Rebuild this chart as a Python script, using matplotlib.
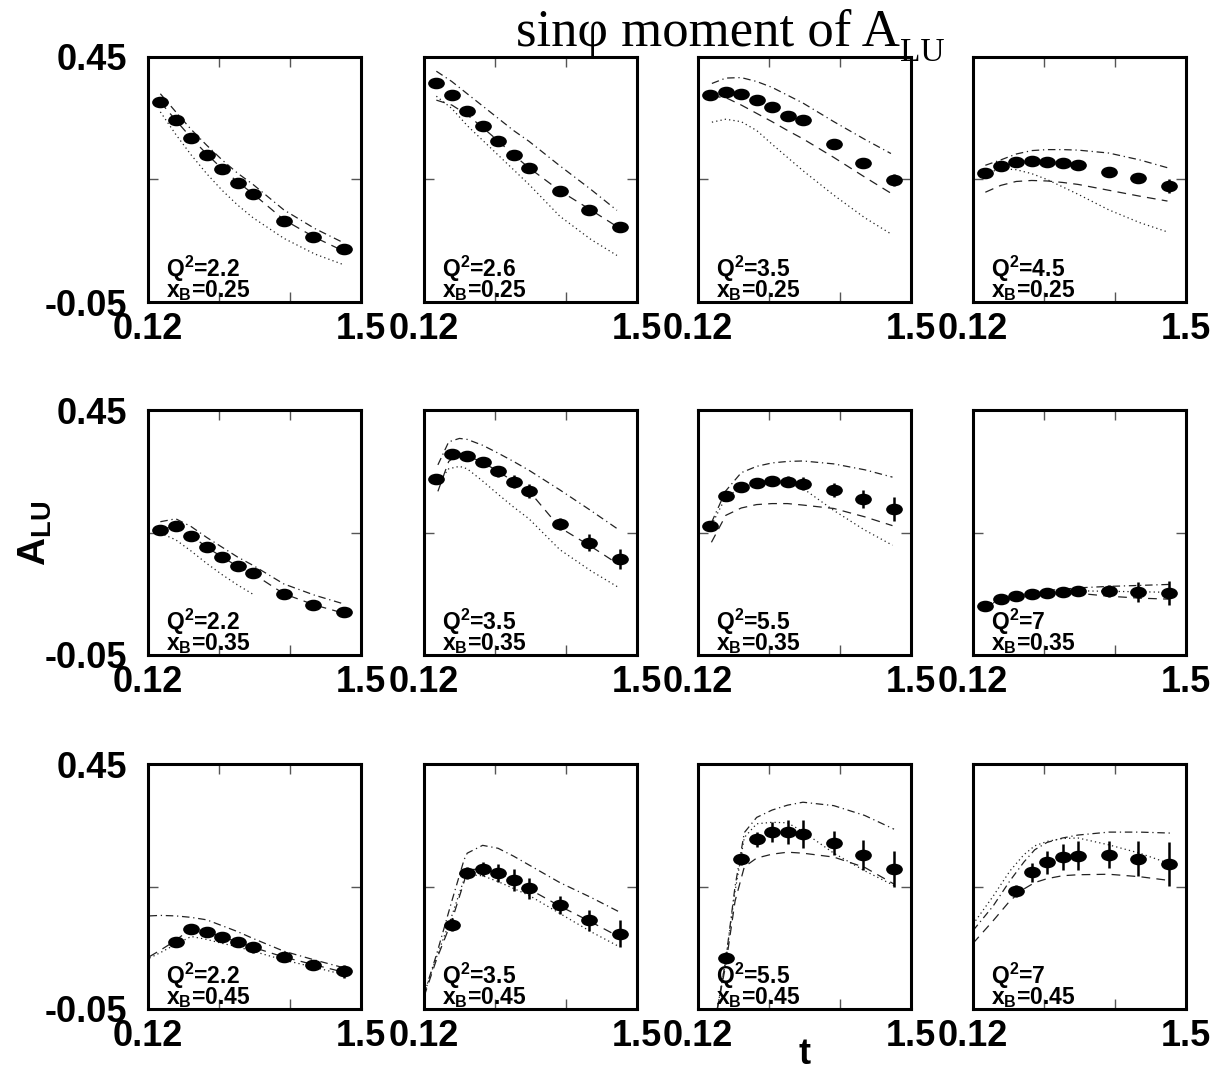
import matplotlib
matplotlib.use("Agg")
import matplotlib.pyplot as plt
from matplotlib.path import Path

nan = float("nan")

# -t bins of the measured points
t_bins = [0.2, 0.3, 0.4, 0.5, 0.6, 0.7, 0.8, 1.0, 1.19, 1.39]

q2_labels = [["2.2", "2.6", "3.5", "4.5"],
             ["2.2", "3.5", "5.5", "7"],
             ["2.2", "3.5", "5.5", "7"]]
xb_labels = ["0.25", "0.35", "0.45"]

# first t-bin used in each panel (row 3 starts at larger -t)
first_bin = [[0, 0, 0, 0],
             [0, 0, 0, 0],
             [1, 1, 1, 2]]

# ---- measured sin(phi) moments and their errors ----
alu_r1c1 = [0.358, 0.321, 0.284, 0.250, 0.221, 0.193, 0.170, 0.116, 0.083, 0.058]
err_r1c1 = [0.003, 0.003, 0.003, 0.003, 0.004, 0.004, 0.004, 0.005, 0.006, 0.007]
alu_r1c2 = [0.396, 0.372, 0.340, 0.309, 0.279, 0.250, 0.224, 0.177, 0.138, 0.104]
err_r1c2 = [0.003, 0.003, 0.003, 0.004, 0.004, 0.004, 0.005, 0.006, 0.007, 0.008]
alu_r1c3 = [0.372, 0.379, 0.374, 0.362, 0.347, 0.330, 0.321, 0.272, 0.234, 0.199]
err_r1c3 = [0.003, 0.003, 0.004, 0.004, 0.004, 0.005, 0.005, 0.007, 0.009, 0.013]
alu_r1c4 = [0.214, 0.228, 0.235, 0.238, 0.236, 0.234, 0.230, 0.216, 0.204, 0.187]
err_r1c4 = [0.004, 0.004, 0.004, 0.005, 0.005, 0.005, 0.006, 0.008, 0.010, 0.015]

alu_r2c1 = [0.206, 0.213, 0.193, 0.170, 0.151, 0.132, 0.117, 0.074, 0.052, 0.037]
err_r2c1 = [0.003, 0.003, 0.004, 0.004, 0.004, 0.005, 0.005, 0.006, 0.007, 0.009]
alu_r2c2 = [0.309, 0.361, 0.357, 0.343, 0.325, 0.304, 0.285, 0.218, 0.179, 0.146]
err_r2c2 = [0.005, 0.005, 0.006, 0.008, 0.011, 0.013, 0.015, 0.012, 0.017, 0.021]
alu_r2c3 = [0.214, 0.274, 0.293, 0.302, 0.306, 0.304, 0.300, 0.287, 0.268, 0.248]
err_r2c3 = [0.006, 0.006, 0.007, 0.008, 0.009, 0.012, 0.014, 0.014, 0.018, 0.024]
alu_r2c4 = [0.049, 0.064, 0.071, 0.074, 0.077, 0.079, 0.081, 0.081, 0.079, 0.077]
err_r2c4 = [0.004, 0.005, 0.006, 0.006, 0.007, 0.008, 0.009, 0.012, 0.020, 0.025]

alu_r3c1 = [0.087, 0.114, 0.107, 0.097, 0.087, 0.076, 0.056, 0.040, 0.027]
err_r3c1 = [0.006, 0.006, 0.007, 0.008, 0.009, 0.011, 0.009, 0.011, 0.013]
alu_r3c2 = [0.122, 0.228, 0.236, 0.228, 0.213, 0.196, 0.162, 0.131, 0.104]
err_r3c2 = [0.013, 0.012, 0.014, 0.018, 0.022, 0.022, 0.019, 0.022, 0.027]
alu_r3c3 = [0.055, 0.256, 0.296, 0.311, 0.311, 0.307, 0.289, 0.264, 0.236]
err_r3c3 = [0.012, 0.012, 0.016, 0.020, 0.024, 0.028, 0.024, 0.031, 0.037]
alu_r3c4 = [0.191, 0.229, 0.249, 0.260, 0.263, 0.265, 0.257, 0.246]
err_r3c4 = [0.013, 0.019, 0.023, 0.027, 0.030, 0.028, 0.036, 0.044]

# ---- model curves: t nodes, dash-dot, dashed, dotted ----
cx_r1c1 = [0.2, 0.3, 0.4, 0.5, 0.6, 0.7, 0.8, 1.0, 1.2, 1.38]
dd_r1c1 = [0.375, 0.338, 0.302, 0.270, 0.240, 0.213, 0.190, 0.138, 0.100, 0.072]
da_r1c1 = [0.358, 0.321, 0.285, 0.252, 0.222, 0.195, 0.171, 0.118, 0.082, 0.055]
do_r1c1 = [0.338, 0.292, 0.250, 0.212, 0.178, 0.148, 0.122, 0.080, 0.048, 0.027]

cx_r1c2 = [0.2, 0.3, 0.4, 0.5, 0.6, 0.7, 0.8, 1.0, 1.2, 1.37]
dd_r1c2 = [0.421, 0.400, 0.375, 0.350, 0.325, 0.300, 0.278, 0.228, 0.180, 0.137]
da_r1c2 = [0.362, 0.352, 0.332, 0.306, 0.279, 0.250, 0.224, 0.177, 0.138, 0.104]
do_r1c2 = [0.370, 0.345, 0.310, 0.280, 0.250, 0.220, 0.190, 0.125, 0.078, 0.045]

cx_r1c3 = [0.21, 0.3, 0.4, 0.5, 0.6, 0.7, 0.8, 1.0, 1.2, 1.37]
dd_r1c3 = [0.396, 0.407, 0.408, 0.400, 0.388, 0.372, 0.356, 0.318, 0.282, 0.253]
da_r1c3 = [0.370, 0.367, 0.352, 0.335, 0.318, 0.300, 0.283, 0.245, 0.205, 0.172]
do_r1c3 = [0.317, 0.323, 0.318, 0.300, 0.272, 0.245, 0.218, 0.168, 0.122, 0.089]

cx_r1c4 = [0.2, 0.3, 0.4, 0.5, 0.6, 0.7, 0.8, 1.0, 1.2, 1.38]
dd_r1c4 = [0.229, 0.240, 0.252, 0.259, 0.261, 0.261, 0.260, 0.254, 0.240, 0.224]
da_r1c4 = [0.174, 0.188, 0.196, 0.198, 0.197, 0.194, 0.190, 0.178, 0.166, 0.156]
do_r1c4 = [0.212, 0.222, 0.220, 0.212, 0.200, 0.185, 0.170, 0.138, 0.112, 0.093]

cx_r2c1 = [0.2, 0.3, 0.4, 0.5, 0.6, 0.7, 0.8, 1.0, 1.2, 1.38]
dd_r2c1 = [0.222, 0.228, 0.212, 0.190, 0.170, 0.150, 0.133, 0.095, 0.072, 0.055]
da_r2c1 = [0.205, 0.214, 0.194, 0.170, 0.150, 0.131, 0.116, 0.075, 0.052, 0.036]
do_r2c1 = [0.199, 0.185, 0.162, 0.137, 0.114, 0.093, 0.074, nan, nan, nan]

cx_r2c2 = [0.21, 0.28, 0.35, 0.4, 0.5, 0.6, 0.7, 0.8, 1.0, 1.2, 1.38]
dd_r2c2 = [0.338, 0.385, 0.392, 0.390, 0.378, 0.362, 0.345, 0.327, 0.287, 0.245, 0.206]
da_r2c2 = [0.284, 0.345, 0.362, 0.357, 0.343, 0.325, 0.304, 0.285, 0.210, 0.172, 0.135]
do_r2c2 = [0.300, 0.330, 0.335, 0.330, 0.305, 0.278, 0.252, 0.228, 0.165, 0.122, 0.088]

cx_r2c3 = [0.207, 0.3, 0.4, 0.5, 0.6, 0.7, 0.8, 1.0, 1.2, 1.38]
dd_r2c3 = [0.220, 0.285, 0.322, 0.335, 0.342, 0.345, 0.346, 0.340, 0.328, 0.313]
da_r2c3 = [0.180, 0.235, 0.250, 0.257, 0.259, 0.259, 0.256, 0.249, 0.232, 0.214]
do_r2c3 = [0.215, 0.272, 0.292, 0.300, 0.303, 0.300, 0.290, 0.245, 0.205, 0.174]

cx_r2c4 = [0.2, 0.3, 0.4, 0.5, 0.6, 0.7, 0.8, 1.0, 1.2, 1.39]
dd_r2c4 = [0.050, 0.066, 0.074, 0.078, 0.082, 0.084, 0.087, 0.090, 0.092, 0.094]
da_r2c4 = [0.048, 0.062, 0.070, 0.073, 0.075, 0.076, 0.076, 0.070, 0.066, 0.064]
do_r2c4 = [0.049, 0.064, 0.072, 0.075, 0.078, 0.080, 0.081, 0.080, 0.079, 0.078]

cx_r3c1 = [0.13, 0.2, 0.3, 0.4, 0.5, 0.6, 0.7, 0.8, 1.0, 1.2, 1.39]
dd_r3c1 = [0.140, 0.141, 0.140, 0.137, 0.132, 0.120, 0.108, 0.094, 0.068, 0.050, 0.034]
da_r3c1 = [0.057, 0.070, 0.090, 0.115, 0.108, 0.097, 0.087, 0.076, 0.056, 0.040, 0.025]
do_r3c1 = [0.054, 0.065, 0.082, 0.098, 0.092, 0.084, 0.077, 0.068, 0.050, 0.035, 0.020]

cx_r3c2 = [0.12, 0.2, 0.3, 0.38, 0.4, 0.5, 0.6, 0.7, 0.8, 1.0, 1.2, 1.38]
dd_r3c2 = [-0.020, 0.060, 0.170, 0.255, 0.268, 0.284, 0.278, 0.262, 0.244, 0.208, 0.178, 0.149]
da_r3c2 = [-0.025, 0.050, 0.130, 0.210, 0.234, 0.236, 0.228, 0.212, 0.195, 0.160, 0.128, 0.098]
do_r3c2 = [-0.020, 0.055, 0.140, 0.215, 0.224, 0.222, 0.210, 0.196, 0.182, 0.145, 0.108, 0.078]

cx_r3c3 = [0.245, 0.3, 0.36, 0.42, 0.5, 0.6, 0.7, 0.8, 1.0, 1.2, 1.39]
dd_r3c3 = [-0.050, 0.050, 0.200, 0.310, 0.341, 0.356, 0.366, 0.372, 0.365, 0.345, 0.317]
da_r3c3 = [-0.050, 0.040, 0.170, 0.240, 0.258, 0.266, 0.270, 0.268, 0.260, 0.239, 0.205]
do_r3c3 = [-0.050, 0.050, 0.190, 0.300, 0.328, 0.331, 0.330, 0.312, 0.268, 0.232, 0.202]

cx_r3c4 = [0.12, 0.25, 0.36, 0.45, 0.52, 0.6, 0.7, 0.8, 1.0, 1.2, 1.4]
dd_r3c4 = [0.110, 0.160, 0.212, 0.250, 0.275, 0.290, 0.299, 0.305, 0.311, 0.311, 0.309]
da_r3c4 = [0.084, 0.130, 0.171, 0.195, 0.208, 0.216, 0.222, 0.224, 0.225, 0.220, 0.212]
do_r3c4 = [0.123, 0.180, 0.232, 0.265, 0.283, 0.292, 0.298, 0.299, 0.285, 0.268, 0.246]

panels = [
    [(alu_r1c1, err_r1c1, cx_r1c1, dd_r1c1, da_r1c1, do_r1c1),
     (alu_r1c2, err_r1c2, cx_r1c2, dd_r1c2, da_r1c2, do_r1c2),
     (alu_r1c3, err_r1c3, cx_r1c3, dd_r1c3, da_r1c3, do_r1c3),
     (alu_r1c4, err_r1c4, cx_r1c4, dd_r1c4, da_r1c4, do_r1c4)],
    [(alu_r2c1, err_r2c1, cx_r2c1, dd_r2c1, da_r2c1, do_r2c1),
     (alu_r2c2, err_r2c2, cx_r2c2, dd_r2c2, da_r2c2, do_r2c2),
     (alu_r2c3, err_r2c3, cx_r2c3, dd_r2c3, da_r2c3, do_r2c3),
     (alu_r2c4, err_r2c4, cx_r2c4, dd_r2c4, da_r2c4, do_r2c4)],
    [(alu_r3c1, err_r3c1, cx_r3c1, dd_r3c1, da_r3c1, do_r3c1),
     (alu_r3c2, err_r3c2, cx_r3c2, dd_r3c2, da_r3c2, do_r3c2),
     (alu_r3c3, err_r3c3, cx_r3c3, dd_r3c3, da_r3c3, do_r3c3),
     (alu_r3c4, err_r3c4, cx_r3c4, dd_r3c4, da_r3c4, do_r3c4)],
]

plt.rcParams["font.family"] = ["Liberation Sans", "DejaVu Sans"]
plt.rcParams["font.weight"] = "bold"
plt.rcParams["axes.unicode_minus"] = False

W, H = 1214, 1073
fig = plt.figure(figsize=(W / 100, H / 100), dpi=100)

col_left = [148, 424, 698, 973]
row_top = [57, 410, 764]
pw, ph = 213, 245

# filled ellipse marker, wider than tall
circ = Path.unit_circle()
ellipse = Path(circ.vertices * [1.5, 1.0], circ.codes)

XMIN, XMAX = 0.12, 1.5
YMIN, YMAX = -0.05, 0.45
tick_font = dict(family="Liberation Sans", weight="bold", size=26)

for r in range(3):
    for c in range(4):
        ax = fig.add_axes([col_left[c] / W, 1 - (row_top[r] + ph) / H, pw / W, ph / H])
        alu, err, cx, dd, da, do = panels[r][c]
        t = t_bins[first_bin[r][c]:]

        lw = 0.9
        ax.plot(cx, dd, color="#222222", lw=lw, ls=(0, (6, 3, 1, 3)), zorder=2)
        ax.plot(cx, da, color="#222222", lw=lw, ls=(0, (7, 5)), zorder=2)
        ax.plot(cx, do, color="#222222", lw=lw, ls=(0, (1, 2.5)), zorder=2)

        ax.errorbar(t, alu, yerr=err, fmt="none", ecolor="black",
                    elinewidth=1.8, capsize=0, zorder=3)
        ax.plot(t, alu, ls="none", marker=ellipse, ms=11, color="black", zorder=4)

        ax.set_xlim(XMIN, XMAX)
        ax.set_ylim(YMIN, YMAX)

        for sp in ax.spines.values():
            sp.set_linewidth(2.2)

        ax.set_xticks([XMIN, XMAX])
        ax.set_xticklabels(["0.12", "1.5"], fontdict=tick_font)
        ax.set_xticks([0.58, 1.04], minor=True)
        ax.set_yticks([YMIN, YMAX])
        if c == 0:
            ax.set_yticklabels(["-0.05", "0.45"], fontdict=tick_font)
        else:
            ax.set_yticklabels([])
        ax.set_yticks([0.2], minor=True)
        ax.tick_params(which="major", length=0)
        ax.tick_params(axis="x", which="major", pad=7)
        ax.tick_params(axis="y", which="major", pad=15)
        ax.tick_params(which="minor", direction="in", length=7, width=1.0,
                       top=True, bottom=True, left=True, right=True, color="#555555")

        # kinematic bin label, two lines in the lower-left corner
        ax.text(0.085, -0.005,
                "Q$^\\mathregular{2}$=" + q2_labels[r][c] + "\n"
                + "x$_\\mathregular{B}$=" + xb_labels[r],
                transform=ax.transAxes, ha="left", va="bottom",
                linespacing=0.72, fontsize=16.5, fontweight="bold",
                family="Liberation Sans")

fig.text(900 / W, 1 - 46 / H, "sinφ moment of A",
         ha="right", va="baseline", family="Liberation Serif",
         fontweight="normal", fontsize=38)
fig.text(900 / W, 1 - 61 / H, "LU",
         ha="left", va="baseline", family="Liberation Serif",
         fontweight="normal", fontsize=24)
fig.text(35 / W, 1 - 533 / H, "A$_\\mathregular{LU}$", rotation=90,
         ha="center", va="center", family="Liberation Sans",
         fontweight="bold", fontsize=28)
fig.text(805 / W, 1 - 1072 / H, "t", ha="center", va="bottom",
         family="Liberation Sans", fontweight="bold", fontsize=26)

fig.savefig("out.png", dpi=100)
